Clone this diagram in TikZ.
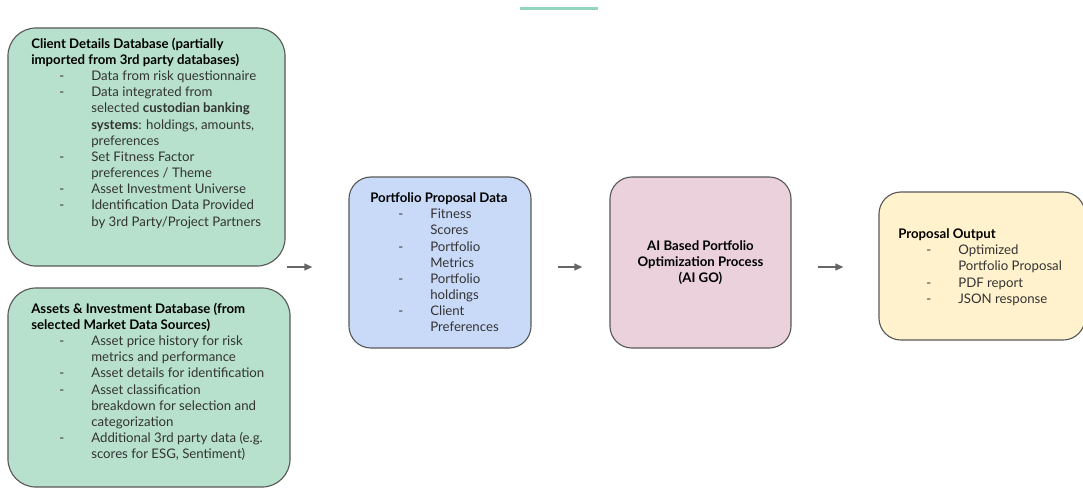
\documentclass[tikz,border=0pt]{standalone}
\usepackage{fontspec}
\setmainfont{Lato}
\usepackage{xcolor}
\usetikzlibrary{arrows.meta}
\definecolor{clientGreen}{HTML}{B7E1CD}
\definecolor{proposalBlue}{HTML}{C9DAF8}
\definecolor{aiPink}{HTML}{EAD1DC}
\definecolor{outputYellow}{HTML}{FFF2CC}
\definecolor{borderGray}{HTML}{595959}
\definecolor{arrowGray}{HTML}{666666}
\definecolor{textGray}{HTML}{333333}
\definecolor{tabTeal}{HTML}{93D5BD}
% one bullet line and one wrapped line of a list
\newcommand{\dashline}[1]{\hspace*{0.7cm}\makebox[0.8cm][l]{-}#1}
\newcommand{\wrapline}[1]{\hspace*{1.5cm}#1}
\tikzset{
  dbbox/.style={draw=borderGray,line width=0.8pt,rounded corners=0.7cm,
    inner sep=0pt},
  listtext/.style={anchor=north west,inner sep=0pt,align=left,
    text=textGray,font=\fontsize{9.4}{11.5}\selectfont},
  flow/.style={draw=arrowGray,line width=1.1pt,
    -{Triangle[length=0.2cm,width=0.17cm]}}
}
\begin{document}
\begin{tikzpicture}[x=0.025cm,y=-0.025cm]
  \useasboundingbox (0,0) rectangle (1083,489);
  \clip (0,0) rectangle (1083,489);
  \draw[tabTeal,line width=0.075cm] (520,8) -- (598,8);
  % boxes
  \node[dbbox,fill=clientGreen,minimum width=6.925cm,minimum height=5.95cm]
    (client) at (146.5,147) {};
  \node[dbbox,fill=clientGreen,minimum width=7.05cm,minimum height=4.975cm]
    (assets) at (149,387.5) {};
  \node[dbbox,fill=proposalBlue,rounded corners=0.55cm,
        minimum width=4.55cm,minimum height=4.275cm]
    (pdata) at (440,262.5) {};
  \node[dbbox,fill=aiPink,rounded corners=0.55cm,
        minimum width=4.525cm,minimum height=4.275cm,align=center,
        font=\fontsize{9.4}{11.5}\selectfont\bfseries]
    (aigo) at (700.5,262.5) {AI Based Portfolio\\Optimization Process\\(AI GO)};
  \node[dbbox,fill=outputYellow,rounded corners=0.55cm,
        minimum width=5.15cm,minimum height=3.7cm]
    (output) at (982,266) {};
  % texts
  \node[listtext] (clienttxt) at (31,37.5) {%
    \textcolor{black}{\textbf{Client Details Database (partially}}\\
    \textcolor{black}{\textbf{imported from 3rd party databases)}}\\
    \dashline{Data from risk questionnaire}\\
    \dashline{Data integrated from}\\
    \wrapline{selected \textbf{custodian banking}}\\
    \wrapline{\textbf{systems}: holdings, amounts,}\\
    \wrapline{preferences}\\
    \dashline{Set Fitness Factor}\\
    \wrapline{preferences / Theme}\\
    \dashline{Asset Investment Universe}\\
    \dashline{Identification Data Provided}\\
    \wrapline{by 3rd Party/Project Partners}};
  \node[listtext] (assetstxt) at (31,302.5) {%
    \textcolor{black}{\textbf{Assets \& Investment Database (from}}\\
    \textcolor{black}{\textbf{selected Market Data Sources)}}\\
    \dashline{Asset price history for risk}\\
    \wrapline{metrics and performance}\\
    \dashline{Asset details for identification}\\
    \dashline{Asset classification}\\
    \wrapline{breakdown for selection and}\\
    \wrapline{categorization}\\
    \dashline{Additional 3rd party data (e.g.}\\
    \wrapline{scores for ESG, Sentiment)}};
  \node[listtext] (pdatatxt) at (370,192.5) {%
    \textcolor{black}{\textbf{Portfolio Proposal Data}}\\
    \dashline{Fitness}\\
    \wrapline{Scores}\\
    \dashline{Portfolio}\\
    \wrapline{Metrics}\\
    \dashline{Portfolio}\\
    \wrapline{holdings}\\
    \dashline{Client}\\
    \wrapline{Preferences}};
  \node[listtext] (outputtxt) at (898,228.5) {%
    \textcolor{black}{\textbf{Proposal Output}}\\
    \dashline{Optimized}\\
    \wrapline{Portfolio Proposal}\\
    \dashline{PDF report}\\
    \dashline{JSON response}};
  % connectors
  \coordinate (merge) at (287,267);
  \draw[flow,shorten >=0.9cm] (merge) -- (pdata.west |- merge);
  \draw[flow,shorten <=0.65cm,shorten >=0.675cm]
    (pdata.east |- merge) -- (aigo.west |- merge);
  \draw[flow,shorten <=0.65cm,shorten >=0.875cm]
    (aigo.east |- merge) -- (output.west |- merge);
\end{tikzpicture}
\end{document}
